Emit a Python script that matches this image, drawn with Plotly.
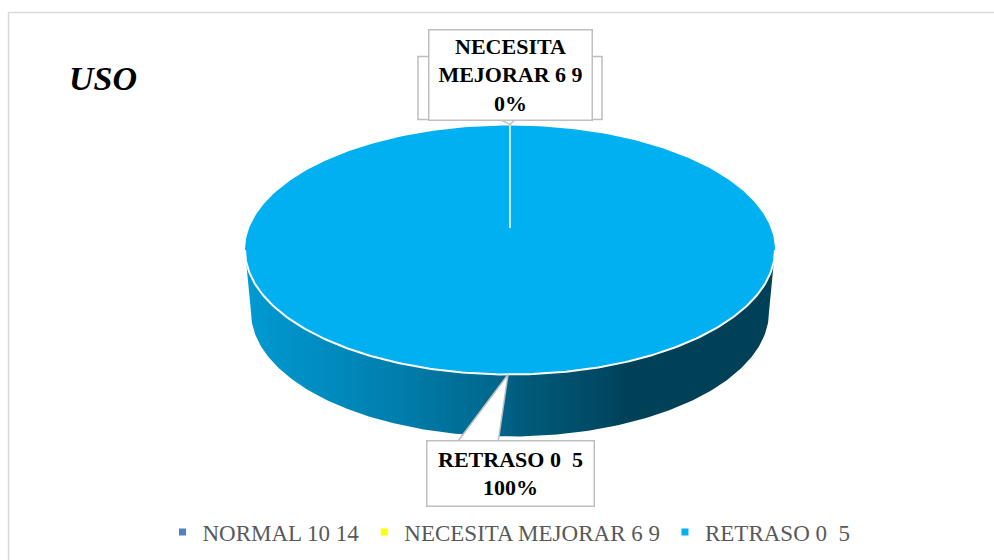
import numpy as np
import plotly.graph_objects as go

# ---------------- data ----------------
categories = ["NORMAL 10 14", "NECESITA MEJORAR 6 9", "RETRASO 0  5"]
values = [0, 0, 100]
slice_colors = ["#4F81BD", "#FFFF00", "#00B0F0"]
show_label = [False, True, True]
chart_title = "USO"

# ---------------- style / geometry ----------------
W, H = 994, 560
CX, CY = 510, 250          # centre of top ellipse
RX, RY = 265, 124.5        # top ellipse radii
DEPTH = 62                 # pie thickness
RXB, RYB = 259, 124.5      # bottom ellipse radii (perspective)
APEX_DY = -22              # perspective shift of the pie centre
FONT = "Liberation Serif"
BORDER = "#BFBFBF"


def top_pt(t):
    return CX + RX * np.sin(t), CY - RY * np.cos(t)


def bot_pt(t):
    return CX + RXB * np.sin(t), CY + DEPTH - RYB * np.cos(t)


def shade(hexcol, f):
    h = hexcol.lstrip("#")
    r, g, b = (int(h[i:i + 2], 16) for i in (0, 2, 4))
    return f"rgb({int(r * f)},{int(g * f)},{int(b * f)})"


vals = np.array(values, dtype=float)
frac = vals / vals.sum()
cum = np.concatenate([[0], np.cumsum(frac)])
pct = np.round(frac * 100).astype(int)

fig = go.Figure()

# ---- sides (front visible part of each slice) ----
for i, f in enumerate(frac):
    if f <= 0:
        continue
    t0, t1 = 2 * np.pi * cum[i], 2 * np.pi * cum[i + 1]
    a, b = max(t0, np.pi / 2), min(t1, 3 * np.pi / 2)
    if a >= b:
        continue
    ts = np.linspace(a, b, 200)
    xt, yt = top_pt(ts)
    xb, yb = bot_pt(ts[::-1])
    xs = np.concatenate([xt, xb, xt[:1]])
    ys = np.concatenate([yt, yb, yt[:1]])
    c = slice_colors[i]
    scale = [[0, shade(c, 0.88)], [0.29, shade(c, 0.72)], [0.48, shade(c, 0.58)],
             [0.52, shade(c, 0.52)], [0.67, shade(c, 0.42)], [0.72, shade(c, 0.37)],
             [1, shade(c, 0.37)]]
    fig.add_trace(go.Scatter(
        x=xs, y=ys, mode="lines", fill="toself", line=dict(width=0),
        fillgradient=dict(type="horizontal", colorscale=scale,
                          start=CX - RX, stop=CX + RX),
        hoverinfo="skip", showlegend=False))

# ---- top faces ----
apex = (CX, CY + APEX_DY)
for i, f in enumerate(frac):
    if f <= 0:
        continue
    t0, t1 = 2 * np.pi * cum[i], 2 * np.pi * cum[i + 1]
    ts = np.linspace(t0, t1, 400)
    xt, yt = top_pt(ts)
    if f >= 0.9999:
        xs, ys = xt, yt
    else:
        xs = np.concatenate([[apex[0]], xt, [apex[0]]])
        ys = np.concatenate([[apex[1]], yt, [apex[1]]])
    fig.add_trace(go.Scatter(
        x=xs, y=ys, mode="lines", fill="toself", fillcolor=slice_colors[i],
        line=dict(width=0), hoverinfo="skip", showlegend=False))

# ---- white rim along the front edge ----
ts = np.linspace(np.pi / 2, 3 * np.pi / 2, 200)
xr, yr = top_pt(ts)
fig.add_trace(go.Scatter(x=xr, y=yr, mode="lines",
                         line=dict(color="white", width=2),
                         hoverinfo="skip", showlegend=False))

# ---- slice boundary lines ----
bounds = sorted(set(np.round(cum[:-1] % 1.0, 6)))
for bfrac in bounds:
    bx, by = top_pt(2 * np.pi * bfrac)
    fig.add_trace(go.Scatter(x=[apex[0], bx], y=[apex[1], by], mode="lines",
                             line=dict(color="white", width=1.5),
                             hoverinfo="skip", showlegend=False))

# ---- legend entries ----
for cat, col in zip(categories, slice_colors):
    fig.add_trace(go.Scatter(x=[None], y=[None], mode="markers",
                             marker=dict(symbol="square", size=7, color=col),
                             name=cat.replace("  ", "\u00a0 ")))

# ---- data labels with callouts ----
shapes = []
annotations = []
for i, f in enumerate(frac):
    if not show_label[i]:
        continue
    tm = np.pi * (cum[i] + cum[i + 1])
    tx, ty = top_pt(tm)
    name = categories[i].replace("  ", "\u00a0 ")
    if np.cos(tm) < 0:   # label below the pie
        bx0, bx1, by0, by1 = tx - 84, tx + 84, ty + 66, ty + 132
        shapes.append(dict(type="path", xref="x", yref="y",
                           path=f"M {tx - 53},{by0 + 2} L {tx - 2},{ty} L {tx - 12},{by0 + 2} Z",
                           fillcolor="white", line=dict(color=BORDER, width=1.5),
                           layer="above"))
        text = f"{name}<br>{pct[i]}%"
        annotations.append(dict(x=(bx0 + bx1) / 2, y=(by0 + by1) / 2, xref="x", yref="y",
                                text=text, showarrow=False, width=162, height=60,
                                borderpad=2, bordercolor=BORDER, borderwidth=1.5,
                                bgcolor="white", align="center",
                                font=dict(family=FONT, size=22, color="#000000",
                                          weight="bold")))
    else:                # label above the pie
        words = name.split(" ")
        line1 = words[0]
        line2 = " ".join(words[1:])
        shapes.append(dict(type="path", xref="x", yref="y",
                           path=(f"M {tx - 92},{ty - 69} L {tx + 92},{ty - 69} "
                                 f"L {tx + 92},{ty - 6} L {tx + 5},{ty - 6} L {tx},{ty - 1} "
                                 f"L {tx - 10},{ty - 6} L {tx - 92},{ty - 6} Z"),
                           fillcolor="white", line=dict(color=BORDER, width=1.5),
                           layer="above"))
        text = f"{line1}<br>{line2}<br>{pct[i]}%"
        annotations.append(dict(x=tx, y=ty - 51, xref="x", yref="y",
                                text=text, showarrow=False, width=158, height=85,
                                borderpad=2, bordercolor=BORDER, borderwidth=1.5,
                                bgcolor="white", align="center",
                                font=dict(family=FONT, size=22, color="#000000",
                                          weight="bold")))

# ---- chart title ----
annotations.append(dict(x=67, y=78, xref="x", yref="y", xanchor="left", yanchor="middle",
                        text=chart_title, showarrow=False,
                        font=dict(family=FONT, size=34, color="#000000",
                                  weight="bold", style="italic")))

# ---- outer frame ----
shapes.append(dict(type="rect", xref="x", yref="y", x0=8.5, y0=12.5, x1=1200, y1=800,
                   line=dict(color="#D9D9D9", width=1.5), fillcolor="rgba(0,0,0,0)",
                   layer="below"))

fig.update_layout(
    width=W, height=H,
    margin=dict(l=0, r=0, t=0, b=0),
    paper_bgcolor="white", plot_bgcolor="white",
    xaxis=dict(range=[0, W], visible=False, fixedrange=True),
    yaxis=dict(range=[H, 0], visible=False, fixedrange=True),
    shapes=shapes, annotations=annotations,
    showlegend=True,
    legend=dict(orientation="h", x=0.5 + 12 / W, xanchor="center", y=1 - 532 / H,
                yanchor="middle",
                font=dict(family=FONT, size=23, color="#595959"),
                bgcolor="rgba(0,0,0,0)", itemclick=False, itemdoubleclick=False),
)

fig.write_html("out.html",
               config={"displayModeBar": False},
               post_script="document.body.style.margin='0';"
                           "document.body.style.overflow='hidden';")
